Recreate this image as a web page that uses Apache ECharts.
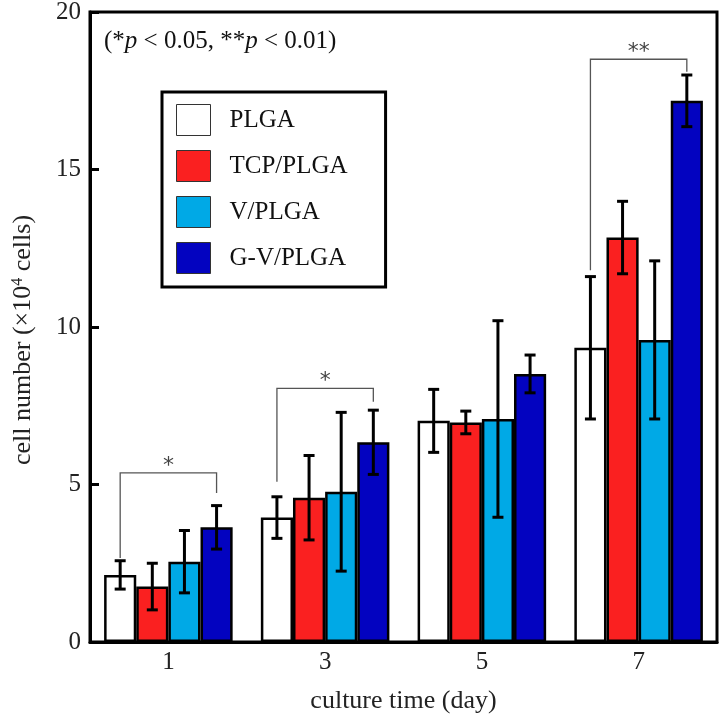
<!DOCTYPE html>
<html><head><meta charset="utf-8">
<script src="https://cdn.jsdelivr.net/npm/echarts@6/dist/echarts.min.js"></script>
<style>html,body{margin:0;padding:0;background:#fff}#c{width:722px;height:715px}</style>
</head><body><div id="c"></div>
<script>
const categories = ['1', '3', '5', '7'];
const seriesNames = ['PLGA', 'TCP/PLGA', 'V/PLGA', 'G-V/PLGA'];
const plgaMean = [2.13, 3.95, 7.02, 9.34];
const tcpMean = [1.76, 4.58, 6.97, 12.84];
const vMean = [2.55, 4.77, 7.08, 9.59];
const gvMean = [3.64, 6.34, 8.51, 17.18];
const plgaErr = [0.45, 0.66, 1.0, 2.26];
const tcpErr = [0.74, 1.34, 0.36, 1.15];
const vErr = [0.99, 2.52, 3.12, 2.51];
const gvErr = [0.69, 1.02, 0.6, 0.82];
// [category index, left foot, top, right foot, label]
const brackets = [[0, 2.67, 5.37, 4.73, '*'], [1, 5.09, 8.05, 7.63, '*'], [3, 11.8, 18.5, 18.1, '**']];
const yTicks = [0, 5, 10, 15, 20];

const colors = ['#ffffff', '#fa2020', '#00a9e6', '#0303c0'];
const means = [plgaMean, tcpMean, vMean, gvMean];
const errs = [plgaErr, tcpErr, vErr, gvErr];
const GAP = 0.18;
const serif = 'Liberation Serif';

const errData = [];
for (let k = 0; k < 4; k++) for (let i = 0; i < categories.length; i++)
  errData.push([i, k, means[k][i] - errs[k][i], means[k][i] + errs[k][i]]);

function offsetFor(api, k) {
  const band = api.size([1, 0])[0];
  const bw = band * (1 - GAP) / 4;
  return (k - 1.5) * bw;
}

const barSeries = seriesNames.map((n, k) => ({
  name: n, type: 'bar', data: means[k],
  barGap: '0%', barCategoryGap: (GAP * 100) + '%',
  itemStyle: { color: colors[k], borderColor: '#000', borderWidth: 2.5 },
  z: 2
}));

const option = {
  animation: false,
  grid: { left: 90, right: 5, top: 12, bottom: 73, show: true, borderColor: '#000', borderWidth: 3,
    outerBoundsMode: 'none', containLabel: false },
  legend: {
    orient: 'vertical', left: 162, top: 92,
    data: seriesNames.map(n => ({ name: n, icon: 'rect' })),
    itemWidth: 34, itemHeight: 31, itemGap: 14,
    padding: [12, 38, 13, 14],
    borderColor: '#000', borderWidth: 3,
    itemStyle: { borderColor: '#333', borderWidth: 1 },
    textStyle: { fontFamily: serif, fontSize: 25, color: '#111', padding: [0, 0, 0, 14] }
  },
  xAxis: {
    type: 'category', data: categories,
    axisLine: { lineStyle: { color: '#000', width: 3 } },
    axisTick: { show: false },
    axisLabel: { fontFamily: serif, fontSize: 25, color: '#222', margin: 8 },
    name: 'culture time (day)', nameLocation: 'middle', nameGap: 46,
    nameTextStyle: { fontFamily: serif, fontSize: 26, color: '#222' }
  },
  yAxis: {
    type: 'value', min: 0, max: 20, interval: 5,
    splitLine: { show: false },
    axisLine: { show: true, lineStyle: { color: '#000', width: 3 } },
    axisTick: { show: true, inside: true, length: 9, lineStyle: { width: 3, color: '#000' } },
    axisLabel: { fontFamily: serif, fontSize: 25, color: '#222', margin: 9,
      formatter: v => yTicks.includes(v) ? String(v) : '' },
    name: '{a|cell number (×10}{s|4}{a| cells)}', nameLocation: 'middle', nameGap: 54,
    nameTextStyle: { padding: [0, 26, 0, 0], rich: {
      a: { fontFamily: serif, fontSize: 26, color: '#222' },
      s: { fontFamily: serif, fontSize: 16, color: '#222', verticalAlign: 'top', padding: [0, 0, 10, 0] }
    } }
  },
  graphic: [{
    type: 'text', left: 104, top: 29,
    style: {
      text: '{a|(*}{i|p}{a| < 0.05, **}{i|p}{a| < 0.01)}',
      rich: {
        a: { fontFamily: serif, fontSize: 25, fill: '#111' },
        i: { fontFamily: serif, fontSize: 25, fontStyle: 'italic', fill: '#111' }
      }
    }
  }],
  series: barSeries.concat([
    {
      type: 'custom', name: 'err', data: errData, z: 5,
      encode: { x: 0, y: [2, 3] },
      renderItem: (params, api) => {
        const i = api.value(0), k = api.value(1);
        const off = offsetFor(api, k);
        const lo = api.coord([i, api.value(2)]);
        const hi = api.coord([i, api.value(3)]);
        const x = lo[0] + off, cap = 5.5;
        const st = { stroke: '#000', lineWidth: 3 };
        return { type: 'group', children: [
          { type: 'line', shape: { x1: x, y1: lo[1], x2: x, y2: hi[1] }, style: st },
          { type: 'line', shape: { x1: x - cap, y1: lo[1], x2: x + cap, y2: lo[1] }, style: st },
          { type: 'line', shape: { x1: x - cap, y1: hi[1], x2: x + cap, y2: hi[1] }, style: st }
        ] };
      }
    },
    {
      type: 'custom', name: 'sig', data: brackets, z: 4,
      encode: { x: 0, y: [1, 2, 3] },
      renderItem: (params, api) => {
        const i = api.value(0);
        const oL = offsetFor(api, 0), oR = offsetFor(api, 3);
        const pl = api.coord([i, api.value(1)]);
        const pt = api.coord([i, api.value(2)]);
        const pr = api.coord([i, api.value(3)]);
        const xl = pl[0] + oL, xr = pl[0] + oR;
        const st = { stroke: '#555', lineWidth: 1.3, fill: null };
        return { type: 'group', children: [
          { type: 'polyline', shape: { points: [[xl, pl[1]], [xl, pt[1]], [xr, pt[1]], [xr, pr[1]]] }, style: st },
          { type: 'text', x: (xl + xr) / 2, y: pt[1] + 4,
            style: { text: brackets[params.dataIndex][4], fontFamily: 'DejaVu Sans', fontSize: 22,
              fill: '#444', align: 'center', verticalAlign: 'bottom' } }
        ] };
      }
    }
  ])
};
echarts.init(document.getElementById('c')).setOption(option);
</script>
</body></html>
